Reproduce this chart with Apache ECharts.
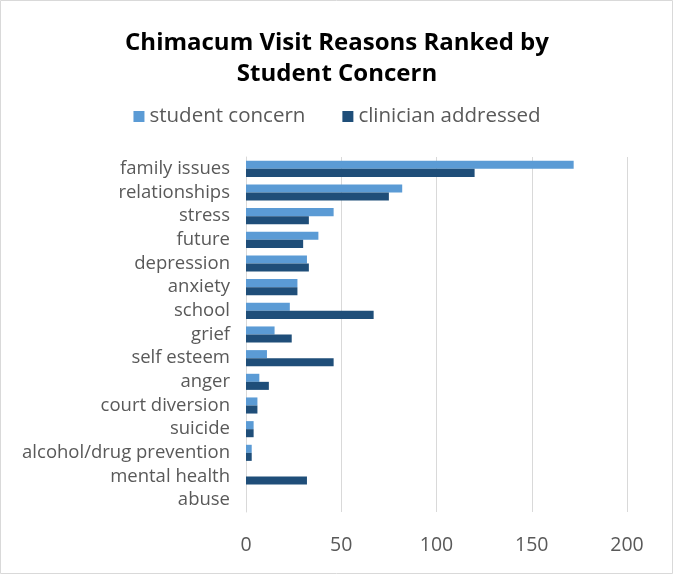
<!DOCTYPE html>
<html><head><meta charset="utf-8">
<script src="https://cdn.jsdelivr.net/npm/echarts@6/dist/echarts.min.js"></script>
<style>html,body{margin:0;padding:0;background:#fff}#c{width:674px;height:575px}</style>
</head><body><div id="c"></div>
<script>
const categories = ['family issues','relationships','stress','future','depression','anxiety','school','grief','self esteem','anger','court diversion','suicide','alcohol/drug prevention','mental health','abuse'];
const studentConcern = [172,82,46,38,32,27,23,15,11,7,6,4,3,0,0];
const clinicianAddressed = [120,75,33,30,33,27,67,24,46,12,6,4,3,32,0];
const xTicks = [0,50,100,150,200];

const chart = echarts.init(document.getElementById('c'));
const font = '"Open Sans", sans-serif';
chart.setOption({
  animation:false,
  title:{text:'Chimacum Visit Reasons Ranked by\nStudent Concern',left:'center',top:23,
    textStyle:{fontFamily:font,fontWeight:'bold',fontSize:24,color:'#000',lineHeight:31}},
  legend:{top:101,left:'center',itemWidth:11,itemHeight:11,itemGap:37,icon:'rect',
    textStyle:{fontFamily:font,fontSize:20.5,color:'#595959'}},
  graphic:[{type:'rect',shape:{x:0.5,y:0.5,width:672,height:573},style:{fill:'none',stroke:'#d9d9d9',lineWidth:1},silent:true}],
  grid:{left:246,right:47,top:157,bottom:63,containLabel:false},
  xAxis:{type:'value',min:xTicks[0],max:xTicks[xTicks.length-1],interval:50,
    axisLabel:{fontFamily:font,fontSize:19.5,color:'#595959',margin:23},
    splitLine:{lineStyle:{color:'#d9d9d9',width:1}},axisLine:{show:false},axisTick:{show:false}},
  yAxis:{type:'category',data:categories,inverse:true,
    axisLabel:{interval:0,fontFamily:font,fontSize:18.5,color:'#595959',margin:16},
    axisLine:{show:true,lineStyle:{color:'#d9d9d9'}},axisTick:{show:false}},
  series:[
    {name:'student concern',type:'bar',data:studentConcern,barGap:'0%',barCategoryGap:'32%',
      itemStyle:{color:'#5b9bd5'}},
    {name:'clinician addressed',type:'bar',data:clinicianAddressed,barGap:'0%',barCategoryGap:'32%',
      itemStyle:{color:'#1f4e79'}}
  ]
});
</script></body></html>
